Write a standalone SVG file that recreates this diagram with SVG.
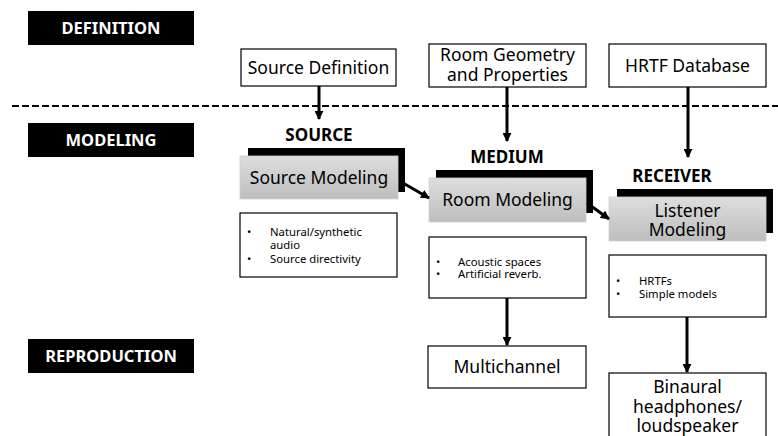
<svg xmlns="http://www.w3.org/2000/svg" width="778" height="436" viewBox="0 0 778 436">
  <style>
    .band { fill: #000; }
    .band-text { font-family: "Noto Sans", "Open Sans", sans-serif; font-weight: bold; font-size: 16.5px; fill: #fff; text-anchor: middle; }
    .box { fill: #fff; stroke: #000; stroke-width: 1.2; }
    .label { font-family: "Noto Sans", "Open Sans", sans-serif; font-size: 17.5px; fill: #000; text-anchor: middle; }
    .title { font-family: "Noto Sans", "Open Sans", sans-serif; font-weight: bold; font-size: 17px; fill: #000; text-anchor: middle; }
    .shadow { fill: #000; }
    .model { fill: url(#grey); stroke: #d0d0d0; stroke-width: 0.8; }
    .bullet { font-family: "Noto Sans", "Open Sans", sans-serif; font-size: 11.3px; fill: #000; }
    .conn { stroke: #000; stroke-width: 3; fill: none; marker-end: url(#head); }
  </style>
  <defs>
    <linearGradient id="grey" x1="0" y1="0" x2="0" y2="1">
      <stop offset="0" stop-color="#dedede"/>
      <stop offset="1" stop-color="#bdbdbd"/>
    </linearGradient>
    <marker id="head" viewBox="0 0 10 10" refX="9" refY="5" markerWidth="3.2" markerHeight="3" orient="auto" markerUnits="strokeWidth">
      <path d="M0,0 L10,5 L0,10 z" fill="#000"/>
    </marker>
  </defs>

  <rect width="778" height="436" fill="#fff"/>

  <!-- stage bands -->
  <g id="band-definition">
    <rect class="band" x="28" y="11" width="166" height="34"/>
    <text class="band-text" x="111" y="34">DEFINITION</text>
  </g>
  <g id="band-modeling">
    <rect class="band" x="28" y="123" width="166" height="34"/>
    <text class="band-text" x="111" y="146">MODELING</text>
  </g>
  <g id="band-reproduction">
    <rect class="band" x="28" y="339" width="166" height="34"/>
    <text class="band-text" x="111" y="362">REPRODUCTION</text>
  </g>

  <!-- divider between definition and modeling -->
  <line x1="12" y1="106" x2="778" y2="106" stroke="#000" stroke-width="2" stroke-dasharray="7 3"/>

  <!-- definition inputs -->
  <g id="source-definition">
    <rect class="box" x="241" y="49" width="155" height="37"/>
    <text class="label" x="318.5" y="73.5">Source Definition</text>
  </g>
  <g id="room-geometry">
    <rect class="box" x="429" y="44" width="157" height="43"/>
    <text class="label" x="507.5" y="61">Room Geometry</text>
    <text class="label" x="507.5" y="81">and Properties</text>
  </g>
  <g id="hrtf-database">
    <rect class="box" x="609" y="44" width="157" height="43"/>
    <text class="label" x="687.5" y="71.5">HRTF Database</text>
  </g>

  <!-- modeling stages -->
  <g id="source-modeling">
    <text class="title" x="319" y="141">SOURCE</text>
    <rect class="shadow" x="248" y="148" width="157" height="44"/>
    <rect class="model" x="240" y="156" width="158" height="43"/>
    <text class="label" x="319" y="184">Source Modeling</text>
  </g>
  <g id="source-notes">
    <rect class="box" x="240" y="213" width="157" height="64"/>
    <text class="bullet" x="247" y="236">•</text>
    <text class="bullet" x="270" y="236">Natural/synthetic</text>
    <text class="bullet" x="270" y="249">audio</text>
    <text class="bullet" x="247" y="263">•</text>
    <text class="bullet" x="270" y="263">Source directivity</text>
  </g>

  <g id="room-modeling">
    <text class="title" x="507" y="163">MEDIUM</text>
    <rect class="shadow" x="436" y="170" width="157" height="43"/>
    <rect class="model" x="429" y="178" width="157" height="44"/>
    <text class="label" x="507.5" y="206">Room Modeling</text>
  </g>
  <g id="medium-notes">
    <rect class="box" x="429" y="237" width="157" height="61"/>
    <text class="bullet" x="436" y="266">•</text>
    <text class="bullet" x="458" y="266">Acoustic spaces</text>
    <text class="bullet" x="436" y="278">•</text>
    <text class="bullet" x="458" y="278">Artificial reverb.</text>
  </g>

  <g id="listener-modeling">
    <text class="title" x="672" y="182">RECEIVER</text>
    <rect class="shadow" x="617" y="189" width="156" height="44"/>
    <rect class="model" x="609" y="197" width="157" height="44"/>
    <text class="label" x="687.5" y="217">Listener</text>
    <text class="label" x="687.5" y="236">Modeling</text>
  </g>
  <g id="receiver-notes">
    <rect class="box" x="609" y="255" width="157" height="62"/>
    <text class="bullet" x="616" y="285">•</text>
    <text class="bullet" x="639" y="285">HRTFs</text>
    <text class="bullet" x="616" y="298">•</text>
    <text class="bullet" x="639" y="298">Simple models</text>
  </g>

  <!-- reproduction outputs -->
  <g id="multichannel">
    <rect class="box" x="428" y="346" width="158" height="42"/>
    <text class="label" x="507" y="373">Multichannel</text>
  </g>
  <g id="binaural">
    <rect class="box" x="609" y="373" width="157" height="70"/>
    <text class="label" x="687.5" y="393">Binaural</text>
    <text class="label" x="687.5" y="413">headphones/</text>
    <text class="label" x="687.5" y="432">loudspeaker</text>
  </g>

  <!-- connectors -->
  <g id="connectors">
    <line class="conn" x1="319" y1="86" x2="319" y2="119"/>
    <line class="conn" x1="507" y1="87" x2="507" y2="141"/>
    <line class="conn" x1="688" y1="87" x2="688" y2="157"/>
    <line class="conn" x1="403" y1="183" x2="429" y2="198"/>
    <line class="conn" x1="587" y1="203" x2="609" y2="219"/>
    <line class="conn" x1="507" y1="298" x2="507" y2="345"/>
    <line class="conn" x1="687" y1="317" x2="687" y2="372"/>
  </g>
</svg>
